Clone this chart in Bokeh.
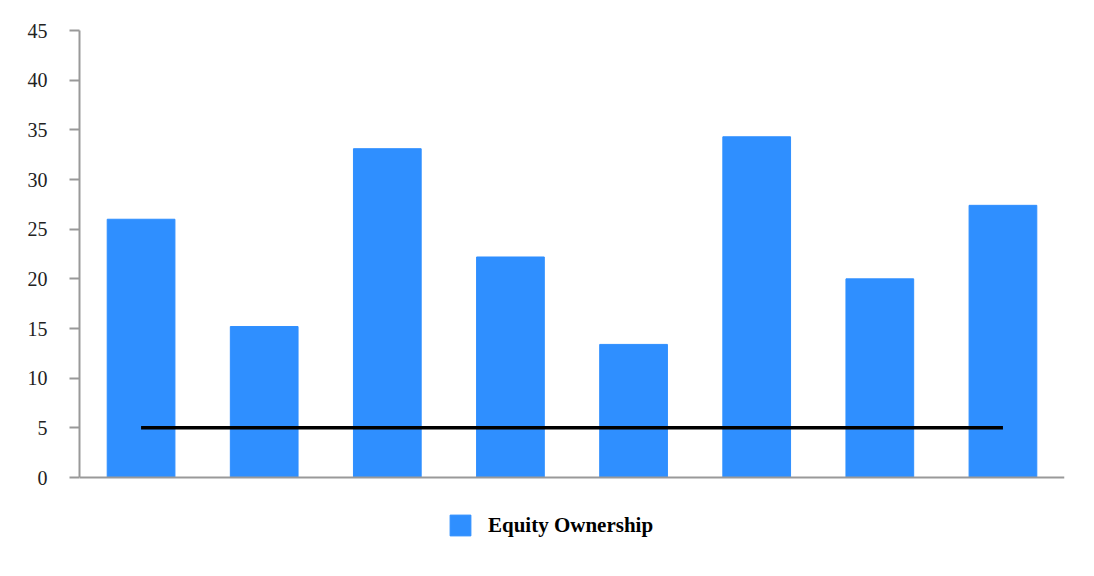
from bokeh.plotting import figure
from bokeh.models import Legend, LegendItem, SingleIntervalTicker, Range1d, FactorRange, Span
from bokeh.embed import file_html
from bokeh.resources import INLINE

# data
groups = ["1", "2", "3", "4", "5", "6", "7", "8"]
equity = [26.0, 15.2, 33.1, 22.2, 13.4, 34.3, 20.0, 27.4]
baseline = [5, 5, 5, 5, 5, 5, 5, 5]

# frame runs 80px below zero so the legend can sit inside it (center legends get clipped to the frame)
p = figure(x_range=FactorRange(*groups, range_padding=0), y_range=Range1d(-8.05, 45),
           frame_width=985, frame_height=527, min_border_left=79, min_border_top=30,
           min_border_right=20, min_border_bottom=0,
           output_backend="svg", toolbar_location=None)
p.outline_line_color = None
p.xgrid.grid_line_color = None
p.ygrid.grid_line_color = None

bars = p.vbar(x=groups, top=equity, width=0.55, color="#2f8fff")
p.line(x=groups, y=baseline, line_color="black", line_width=3.5)

p.yaxis.bounds = (0, 45)
p.yaxis.ticker = SingleIntervalTicker(interval=5)
p.yaxis.axis_line_color = "#999999"
p.yaxis.axis_line_width = 2
p.yaxis.major_tick_line_color = "#999999"
p.yaxis.major_tick_line_width = 2
p.yaxis.major_tick_out = 10
p.yaxis.major_tick_in = 0
p.yaxis.minor_tick_line_color = None
p.yaxis.major_label_standoff = 22
p.yaxis.major_label_text_font = "Liberation Serif"
p.yaxis.major_label_text_font_size = "20px"
p.yaxis.major_label_text_color = "#222222"

# x axis line drawn as a span at zero
p.xaxis.visible = False
p.add_layout(Span(location=0, dimension="width", line_color="#999999", line_width=2))

legend = Legend(items=[LegendItem(label="Equity Ownership", renderers=[bars])],
                location=(368, 19), orientation="horizontal",
                glyph_width=26, glyph_height=26, label_standoff=15,
                label_text_font="Liberation Serif", label_text_font_size="21px",
                label_text_font_style="bold", label_text_color="black",
                padding=0, margin=0,
                border_line_color=None, background_fill_alpha=0)
p.add_layout(legend)

open("out.html", "w").write(file_html(p, INLINE))
